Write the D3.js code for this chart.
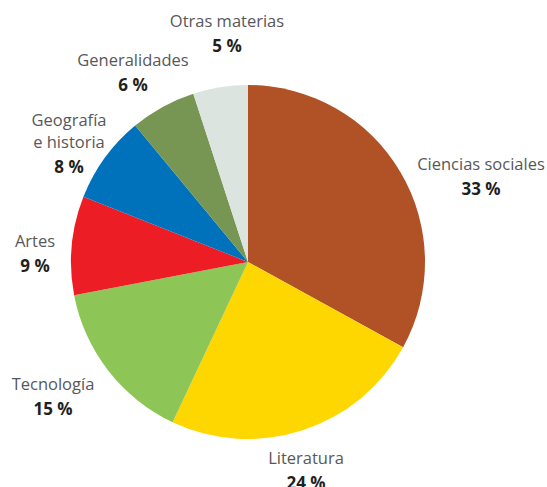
<!DOCTYPE html>
<html>
<head>
<meta charset="utf-8">
<script src="https://cdn.jsdelivr.net/npm/d3@7"></script>
<style>
  body { margin: 0; background: #fff; }
  text { font-family: "Open Sans", "Noto Sans", sans-serif; }
</style>
</head>
<body>
<div id="chart"></div>
<script>
// data
var materias = ["Ciencias sociales", "Literatura", "Tecnología", "Artes", "Geografía\ne historia", "Generalidades", "Otras materias"];
var porcentajes = [33, 24, 15, 9, 8, 6, 5];
var colores = ["#b05126", "#fed700", "#8dc656", "#ec1d25", "#0071bb", "#779653", "#dbe4de"];

// label anchors (center x, first baseline y)
var labelPos = [[481, 170], [306, 464], [53, 390], [35, 247], [69, 126], [133, 66], [227, 27]];

var width = 547, height = 487;
var cx = 248, cy = 262, radius = 177;

var svg = d3.select("#chart").append("svg")
    .attr("width", width)
    .attr("height", height);

var pie = d3.pie().sort(null).value(function (d) { return d; });
var arc = d3.arc().innerRadius(0).outerRadius(radius);

var g = svg.append("g").attr("transform", "translate(" + cx + "," + cy + ")");

g.selectAll("path")
    .data(pie(porcentajes))
    .enter().append("path")
    .attr("d", arc)
    .attr("fill", function (d, i) { return colores[i]; });

var labels = svg.selectAll("g.label")
    .data(materias)
    .enter().append("g")
    .attr("class", "label")
    .attr("transform", function (d, i) { return "translate(" + labelPos[i][0] + "," + labelPos[i][1] + ")"; });

labels.each(function (d, i) {
    var lines = d.split("\n");
    var el = d3.select(this);
    lines.forEach(function (l, j) {
        el.append("text")
            .attr("y", j * 22)
            .attr("text-anchor", "middle")
            .style("font-size", "16.5px")
            .style("fill", "#58585a")
            .text(l);
    });
    el.append("text")
        .attr("y", lines.length * 22 + 3)
        .attr("text-anchor", "middle")
        .style("font-size", "17px")
        .style("font-weight", "bold")
        .style("fill", "#231f20")
        .text(porcentajes[i] + " %");
});
</script>
</body>
</html>
